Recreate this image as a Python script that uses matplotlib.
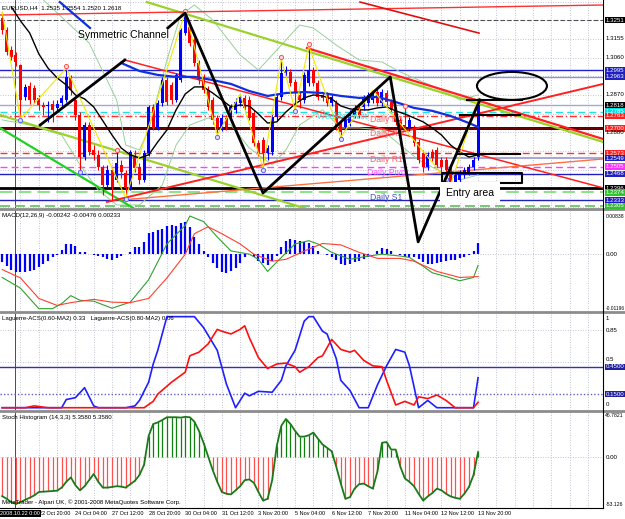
import numpy as np
import matplotlib
matplotlib.use("Agg")
import matplotlib.pyplot as plt
import matplotlib.transforms as mtransforms
from matplotlib.lines import Line2D
from matplotlib.patches import Ellipse

plt.rcParams["font.family"] = ["Liberation Sans", "DejaVu Sans"]

# ---------------- EURUSD H4 bars ----------------
opens = [1.3262, 1.3201, 1.3099, 1.3074, 1.3023, 1.2860, 1.2916, 1.2906, 1.2855, 1.2819,
         1.2814, 1.2824, 1.2804, 1.2829, 1.2845, 1.2957, 1.2845, 1.2768, 1.2554, 1.2717,
         1.2590, 1.2565, 1.2504, 1.2412, 1.2488, 1.2437, 1.2514, 1.2473, 1.2397, 1.2554,
         1.2504, 1.2437, 1.2575, 1.2809, 1.2702, 1.2829, 1.2946, 1.2921, 1.2845, 1.2946,
         1.3186, 1.3216, 1.3150, 1.3033, 1.2962, 1.2895, 1.2845, 1.2753, 1.2702, 1.2753,
         1.2753, 1.2794, 1.2829, 1.2855, 1.2845, 1.2778, 1.2626, 1.2641, 1.2575, 1.2580,
         1.2758, 1.2860, 1.2982, 1.2987, 1.2936, 1.2870, 1.2845, 1.2931, 1.2997, 1.2931,
         1.2870, 1.2870, 1.2829, 1.2829, 1.2727, 1.2707, 1.2727, 1.2768, 1.2804, 1.2809,
         1.2829, 1.2845, 1.2885, 1.2829, 1.2880, 1.2834, 1.2794, 1.2743, 1.2717, 1.2702,
         1.2702, 1.2631, 1.2575, 1.2504, 1.2580, 1.2590, 1.2539, 1.2539, 1.2504, 1.2427,
         1.2437, 1.2463, 1.2478, 1.2504, 1.2554]
closes = [1.3201, 1.3089, 1.3063, 1.3038, 1.2845, 1.2911, 1.2845, 1.2845, 1.2819, 1.2809,
          1.2819, 1.2794, 1.2824, 1.2855, 1.2962, 1.2895, 1.2768, 1.2554, 1.2717, 1.2580,
          1.2565, 1.2504, 1.2412, 1.2488, 1.2402, 1.2524, 1.2478, 1.2397, 1.2580, 1.2498,
          1.2437, 1.2575, 1.2809, 1.2702, 1.2829, 1.2946, 1.2834, 1.2845, 1.2972, 1.3201,
          1.3277, 1.3135, 1.3033, 1.2946, 1.2895, 1.2809, 1.2743, 1.2707, 1.2753, 1.2707,
          1.2809, 1.2834, 1.2860, 1.2804, 1.2753, 1.2626, 1.2575, 1.2575, 1.2600, 1.2758,
          1.2860, 1.2982, 1.2997, 1.2931, 1.2880, 1.2845, 1.2972, 1.2997, 1.2931, 1.2860,
          1.2855, 1.2829, 1.2860, 1.2707, 1.2682, 1.2743, 1.2778, 1.2804, 1.2768, 1.2855,
          1.2870, 1.2880, 1.2829, 1.2885, 1.2834, 1.2794, 1.2733, 1.2702, 1.2707, 1.2743,
          1.2626, 1.2539, 1.2504, 1.2565, 1.2549, 1.2514, 1.2504, 1.2488, 1.2427, 1.2463,
          1.2473, 1.2488, 1.2504, 1.2539, 1.2818]
highs = [1.3292, 1.3216, 1.3119, 1.3089, 1.3030, 1.2926, 1.2936, 1.2921, 1.2870, 1.2834,
         1.2839, 1.2845, 1.2845, 1.2870, 1.3007, 1.2972, 1.2855, 1.2783, 1.2733, 1.2733,
         1.2615, 1.2590, 1.2514, 1.2514, 1.2504, 1.2580, 1.2539, 1.2488, 1.2590, 1.2590,
         1.2524, 1.2590, 1.2819, 1.2824, 1.2845, 1.2962, 1.2962, 1.2936, 1.2982, 1.3211,
         1.3292, 1.3242, 1.3160, 1.3048, 1.2977, 1.2916, 1.2860, 1.2768, 1.2773, 1.2768,
         1.2824, 1.2855, 1.2875, 1.2870, 1.2865, 1.2794, 1.2641, 1.2656, 1.2615, 1.2773,
         1.2875, 1.3053, 1.3018, 1.3002, 1.2951, 1.2885, 1.2987, 1.3119, 1.3013, 1.2946,
         1.2885, 1.2885, 1.2875, 1.2845, 1.2743, 1.2758, 1.2794, 1.2819, 1.2819, 1.2870,
         1.2885, 1.2895, 1.2901, 1.2901, 1.2895, 1.2850, 1.2809, 1.2758, 1.2804, 1.2758,
         1.2717, 1.2646, 1.2590, 1.2580, 1.2595, 1.2605, 1.2554, 1.2554, 1.2519, 1.2478,
         1.2488, 1.2504, 1.2519, 1.2554, 1.2855]
lows = [1.3180, 1.3074, 1.3048, 1.3018, 1.2748, 1.2845, 1.2824, 1.2829, 1.2794, 1.2768,
        1.2733, 1.2733, 1.2783, 1.2814, 1.2834, 1.2870, 1.2743, 1.2488, 1.2539, 1.2565,
        1.2539, 1.2488, 1.2361, 1.2397, 1.2336, 1.2427, 1.2448, 1.2346, 1.2386, 1.2478,
        1.2417, 1.2427, 1.2560, 1.2692, 1.2692, 1.2814, 1.2819, 1.2824, 1.2834, 1.2936,
        1.3175, 1.3119, 1.3018, 1.2926, 1.2880, 1.2794, 1.2722, 1.2666, 1.2687, 1.2692,
        1.2738, 1.2778, 1.2814, 1.2794, 1.2743, 1.2610, 1.2560, 1.2498, 1.2539, 1.2565,
        1.2743, 1.2845, 1.2967, 1.2916, 1.2794, 1.2804, 1.2829, 1.2916, 1.2916, 1.2845,
        1.2839, 1.2814, 1.2814, 1.2692, 1.2656, 1.2692, 1.2712, 1.2753, 1.2753, 1.2794,
        1.2814, 1.2829, 1.2814, 1.2814, 1.2819, 1.2778, 1.2717, 1.2687, 1.2692, 1.2687,
        1.2610, 1.2524, 1.2478, 1.2488, 1.2534, 1.2498, 1.2463, 1.2448, 1.2412, 1.2412,
        1.2422, 1.2448, 1.2463, 1.2488, 1.2539]

date_bars = [8, 16, 24, 32, 40, 48, 56, 64, 72, 80, 88, 96, 104]
date_labels = ["22 Oct 20:00", "24 Oct 04:00", "27 Oct 12:00", "28 Oct 20:00",
               "30 Oct 04:00", "31 Oct 12:00", "3 Nov 20:00", "5 Nov 04:00",
               "6 Nov 12:00", "7 Nov 20:00", "11 Nov 04:00", "12 Nov 12:00",
               "13 Nov 20:00"]

# moving averages / bands on the price window
black_ma_x = list(range(2, 105, 2))
black_ma = [1.3318, 1.3247, 1.3186, 1.3079, 1.3007, 1.2957, 1.2921, 1.2870, 1.2850, 1.2809,
            1.2738, 1.2666, 1.2600, 1.2565, 1.2549, 1.2565, 1.2631, 1.2692, 1.2794, 1.2875,
            1.2911, 1.2911, 1.2880, 1.2845, 1.2809, 1.2819, 1.2814, 1.2773, 1.2727, 1.2733,
            1.2783, 1.2824, 1.2855, 1.2870, 1.2865, 1.2850, 1.2814, 1.2799, 1.2794, 1.2794,
            1.2804, 1.2809, 1.2789, 1.2773, 1.2753, 1.2733, 1.2702, 1.2666, 1.2615, 1.2580,
            1.2554, 1.2565]
blue_ma_x = [26, 30, 34, 38, 42, 46, 50, 54, 58, 62, 66, 70, 74, 78, 82, 86, 90, 94, 98, 102, 104]
blue_ma = [1.3033, 1.2992, 1.2972, 1.2962, 1.2962, 1.2946, 1.2926, 1.2890, 1.2865, 1.2880,
           1.2885, 1.2880, 1.2865, 1.2855, 1.2860, 1.2834, 1.2804, 1.2789, 1.2763, 1.2727, 1.2707]
blue_ma_top_x = [12.6, 19.2]
blue_ma_top = [1.3343, 1.3211]
bb_upper_x = [9, 19, 25, 27, 30, 32, 36, 39, 42, 46, 52, 56, 61, 65, 68, 73, 78, 83, 87, 91, 96, 100, 104]
bb_upper = [1.3354, 1.3135, 1.2845, 1.2615, 1.2590, 1.2692, 1.3048, 1.3277, 1.3328, 1.3252,
            1.3074, 1.2997, 1.3124, 1.3226, 1.3211, 1.3124, 1.3048, 1.3038, 1.2987, 1.2946,
            1.2895, 1.2845, 1.2870]
bb_lower_x = [0, 6, 13, 17, 21, 25, 30, 35, 38, 41, 45, 50, 54, 59, 62, 65, 70, 74, 78, 83,
              87, 91, 96, 100, 104]
bb_lower = [1.2743, 1.2717, 1.2666, 1.2514, 1.2386, 1.2310, 1.2310, 1.2412, 1.2615, 1.2717,
            1.2753, 1.2717, 1.2600, 1.2514, 1.2590, 1.2717, 1.2794, 1.2702, 1.2702, 1.2692,
            1.2615, 1.2539, 1.2478, 1.2437, 1.2463]
zz_bars = [0, 4, 14, 27, 40, 47, 52, 57, 61, 64, 67, 74, 81, 98, 104]
zz_sides = ["H", "L", "H", "L", "H", "L", "H", "L", "H", "L", "H", "L", "H", "L", "H"]
fractal_hi = [14, 25, 40, 61, 67, 88]
fractal_lo = [4, 17, 27, 47, 57, 64, 74, 97]

# horizontal levels with their price tags
level_prices = [1.3251, 1.2995, 1.2963, 1.2818, 1.2785, 1.2763, 1.2700, 1.2573, 1.2549,
                1.2505, 1.2468, 1.2396, 1.2374, 1.2333, 1.2305]
grid_labels = [1.3155, 1.3060, 1.2870, 1.2680]

# drawn objects (bar, price anchors)
green_ch = [([-0.5, 67.3], [1.2768, 1.2285]), ([31.6, 131.3], [1.3343, 1.2631])]
lime_line = ([-0.5, 28.6], [1.2702, 1.2295])
red_down = [([66.6, 131.3], [1.3109, 1.2646]), ([26.8, 131.3], [1.3048, 1.2397])]
red_up = ([22.9, 131.3], [1.2325, 1.2926])
orange_up = ([26.4, 131.3], [1.2336, 1.2544])
red_top = ([-0.5, 131.3], [1.3277, 1.3328])
darkred_top = ([78.2, 104.2], [1.3343, 1.3185])
sym_left = ([8.3, 26.8], [1.2717, 1.3048])
sym_main = ([36.2, 39.96, 57.0, 84.8, 90.9, 104.4], [1.3211, 1.3287, 1.2371, 1.2962, 1.2122, 1.2845])
hsegs = [([100.1, 113.2], 1.2768), ([99.4, 113.2], 1.2570), ([101.6, 113.6], 1.2845)]
entry_box = ([96.1, 113.6], [1.2473, 1.2422])
target_ellipse = (111.4, 1.2916, 15.3, 0.01425)

# ---------------- indicator windows ----------------
macd_hist = [-0.0017, -0.0026, -0.0033, -0.0038, -0.0039, -0.0038, -0.0037, -0.0033, -0.0028, -0.0022,
             -0.0015, -0.0007, -0.0001, 0.0009, 0.0021, 0.0022, 0.0018, 0.0005, 0.0004, 0.0001,
             -0.0001, -0.0004, -0.0007, -0.0010, -0.0013, -0.0009, -0.0004, 0.0000, 0.0004, 0.0015,
             0.0016, 0.0026, 0.0045, 0.0048, 0.0051, 0.0055, 0.0060, 0.0062, 0.0060, 0.0066,
             0.0070, 0.0059, 0.0037, 0.0022, 0.0007, -0.0007, -0.0018, -0.0029, -0.0038, -0.0040,
             -0.0037, -0.0029, -0.0018, -0.0007, 0.0000, -0.0007, -0.0015, -0.0018, -0.0023, -0.0015,
             -0.0004, 0.0015, 0.0028, 0.0033, 0.0031, 0.0029, 0.0026, 0.0023, 0.0018, 0.0007,
             0.0001, -0.0002, -0.0006, -0.0013, -0.0021, -0.0023, -0.0022, -0.0017, -0.0015, -0.0011,
             -0.0007, 0.0000, 0.0006, 0.0013, 0.0011, 0.0007, 0.0001, -0.0001, -0.0006, -0.0005,
             -0.0007, -0.0011, -0.0016, -0.0022, -0.0021, -0.0018, -0.0016, -0.0015, -0.0013, -0.0012,
             -0.0009, -0.0006, -0.0001, 0.0007, 0.0023]
macd_main_x = [0, 4, 8, 11, 13, 15, 17, 20, 24, 28, 32, 36, 40, 41, 44, 47, 50, 54, 56, 58,
               61, 64, 67, 69, 72, 76, 80, 83, 87, 89, 92, 94, 97, 100, 103, 104]
macd_main = [-0.0050, -0.0073, -0.0117, -0.0117, -0.0106, -0.0089, -0.0099, -0.0101, -0.0116, -0.0103,
             -0.0055, 0.0022, 0.0062, 0.0082, 0.0070, 0.0037, 0.0007, 0.0000, -0.0011, -0.0037,
             -0.0007, 0.0022, 0.0029, 0.0022, 0.0004, -0.0011, -0.0004, 0.0000, -0.0004, -0.0007,
             -0.0026, -0.0040, -0.0048, -0.0057, -0.0050, -0.0024]
macd_signal_x = [0, 4, 8, 12, 15, 20, 24, 28, 32, 36, 40, 42, 45, 48, 52, 55, 59, 62, 67, 70,
                 74, 78, 82, 87, 90, 95, 100, 104]
macd_signal = [-0.0033, -0.0051, -0.0095, -0.0110, -0.0104, -0.0097, -0.0103, -0.0104, -0.0095, -0.0051,
               0.0000, 0.0044, 0.0059, 0.0044, 0.0022, 0.0000, -0.0015, -0.0011, 0.0011, 0.0023,
               0.0020, 0.0004, -0.0009, -0.0009, -0.0015, -0.0037, -0.0050, -0.0048]

lag_fast_x = [0, 13, 14, 16, 18, 20, 21, 27, 29, 30, 32, 33, 34, 36, 42, 44, 47, 49, 51, 53,
              54, 56, 59, 61, 62, 64, 66, 67, 68, 70, 71, 73, 74, 76, 78, 80, 82, 84, 86, 88,
              89, 91, 93, 95, 103, 104]
lag_fast = [0, 0, 0.09, 0.11, 0.22, 0.02, 0, 0, 0.02, 0.08, 0.28, 0.48, 0.63, 1.0, 1.0, 0.88,
            0.63, 0.26, 0, 0.16, 0.13, 0.18, 0.17, 0.30, 0.46, 0.63, 0.95, 1.0, 1.0, 0.84,
            0.81, 0.54, 0.30, 0.19, 0, 0, 0.25, 0.46, 0.64, 0.61, 0.46, 0, 0.08, 0, 0, 0.33]
lag_slow_x = [0, 5, 7, 10, 31, 33, 34, 37, 40, 41, 43, 45, 47, 48, 50, 52, 53, 54, 56, 58,
              60, 62, 64, 65, 67, 69, 70, 72, 74, 76, 77, 79, 81, 83, 84, 86, 88, 90, 91, 93,
              95, 97, 99, 103, 104]
lag_slow = [0, 0, 0.02, 0, 0, 0.07, 0.15, 0.28, 0.39, 0.57, 0.61, 0.70, 0.86, 0.84, 0.81,
            0.86, 0.90, 0.77, 0.55, 0.43, 0.48, 0.49, 0.45, 0.39, 0.45, 0.55, 0.57, 0.75, 0.64,
            0.61, 0.63, 0.52, 0.46, 0.45, 0.30, 0.03, 0.07, 0.03, 0.12, 0.10, 0.14, 0.08, 0, 0, 0.06]

stoch_hist = [-42.6, -45.5, -49.2, -51.1, -49.2, -46.6, -44.4, -41.8, -38.1, -37.7,
              -37.4, -37.0, -36.6, -33.3, -27.0, -22.2, -30.7, -36.3, -31.8, -25.2,
              -18.5, -27.0, -33.3, -33.3, -32.6, -31.8, -32.2, -33.3, -29.6, -25.9,
              -19.6, -8.5, 22.9, 35.9, 37.7, 40.3, 43.3, 43.3, 43.3, 42.9,
              43.7, 43.3, 38.5, 28.5, 15.5, 0.7, -14.1, -27.0, -38.1, -40.0,
              -40.7, -36.3, -31.8, -25.2, -24.4, -28.1, -38.1, -47.4, -45.5, -25.2,
              11.8, 34.0, 41.4, 35.9, 28.5, 22.2, 22.2, 23.7, 26.6, 20.0,
              13.7, 10.0, 6.3, -10.4, -28.9, -45.5, -43.7, -34.4, -29.6, -28.9,
              -31.8, -34.4, -15.9, 15.5, 16.3, 8.1, 8.1, -10.4, -23.3, -27.0,
              -31.8, -40.0, -47.4, -42.9, -39.2, -34.4, -36.3, -40.0, -42.9, -44.4,
              -45.5, -40.0, -32.6, -19.6, 5.4]

# ---------------- layout (pixel based, like the terminal window) ----------------
W, H = 625, 519
PLOT_R = 603
XLIM = (-0.48, 131.3)
GRID = "#b0b0c4"
FS = 4.4

fig = plt.figure(figsize=(W / 100, H / 100), dpi=100)
fig.patch.set_facecolor("white")


def add_panel(top, bottom, z=1):
    ax = fig.add_axes([0, 1 - bottom / H, PLOT_R / W, (bottom - top) / H], zorder=z)
    ax.set_xlim(*XLIM)
    ax.set_xticks([])
    ax.set_yticks([])
    for s in ax.spines.values():
        s.set_visible(False)
    for b in range(4, 132, 4):
        ax.axvline(b, color=GRID, lw=0.6, ls=(0, (1, 2)), zorder=0)
    ax.axvline(2.8, color="#303030", lw=0.6, zorder=1)
    return ax


def tag(ax, y, text, fc, tc="white"):
    ax.text(1.004, y, text, transform=ax.get_yaxis_transform(), fontsize=FS, color=tc,
            va="center", ha="left", clip_on=False,
            bbox=dict(boxstyle="square,pad=0.12", fc=fc, ec="none"))


def plain(ax, y, text, fs=FS):
    ax.text(1.004, y, text, transform=ax.get_yaxis_transform(), fontsize=fs,
            color="black", va="center", ha="left", clip_on=False)


main = add_panel(0, 207.5, z=5)
macd = add_panel(209.5, 311)
lag = add_panel(313, 410)
sto = add_panel(412, 508)

# ---------------- price window ----------------
main.set_ylim(1.2297, 1.33535)
for p in np.arange(1.3345, 1.229, -0.0095):
    main.axhline(p, color=GRID, lw=0.6, ls=(0, (1, 2)), zorder=0)

level_colors = ["#505050", "#2020d0", "#9090d8", "#a8a8cc", "#20e0e0", "#ff3030", "#000000",
                "#ff3030", "#a8a8d0", "#ff40ff", "#2020c0", "#000000", "#90e090", "#2020c0",
                "#60c060"]
level_styles = [(0, (4, 2)), "-", "-", "-", (0, (5, 3)), (0, (5, 2, 1, 2)), "-", (0, (5, 3)),
                "-", (0, (5, 3)), "-", "-", (0, (6, 3)), "-", (0, (6, 3))]
level_widths = [0.8, 1.0, 1.0, 1.0, 1.0, 1.0, 2.0, 1.0, 1.5, 1.0, 1.0, 2.0, 1.5, 1.0, 1.2]
tag_colors = ["#000000", "#2020c0", "#2020c0", "#000000", "#00e0e0", "#ff2020", "#ff2020",
              "#ff2020", "#2020c0", "#ff30ff", "#2020c0", "#000000", "#30c030", "#2020c0",
              "#30c030"]
for p, c, ls, lw, tc in zip(level_prices, level_colors, level_styles, level_widths, tag_colors):
    main.axhline(p, color=c, ls=ls, lw=lw, zorder=2)
    tag(main, p, f"{p:.4f}", tc)
main.axhline(level_prices[6], color="#800000", lw=0.6, zorder=2)
for p in grid_labels:
    plain(main, p, f"{p:.4f}")

# bands and averages
main.plot(bb_upper_x, bb_upper, color="#98d098", lw=0.7, zorder=3)
main.plot(bb_lower_x, bb_lower, color="#98d098", lw=0.7, zorder=3)

# sloping trend lines
for xs, ys in green_ch:
    main.plot(xs, ys, color="#9ad22a", lw=1.6, zorder=3)
main.plot(*lime_line, color="#22d022", lw=1.6, zorder=3)
for (xs, ys), lw in zip(red_down, [1.6, 1.1]):
    main.plot(xs, ys, color="#ff2020", lw=lw, zorder=3)
main.plot(*red_up, color="#ff2020", lw=1.4, zorder=3)
main.plot(*orange_up, color="#ff7040", lw=1.0, zorder=3)
main.plot(*red_top, color="#ff3030", lw=1.0, zorder=3)
main.plot(*darkred_top, color="#e01010", lw=1.2, zorder=3)

# candles
x = np.arange(len(closes))
o, h, l, c = map(np.array, (opens, highs, lows, closes))
cols = np.where(c >= o, "#0000ff", "#ff0000")
main.vlines(x, l, h, colors=cols, lw=0.8, zorder=4)
body = np.maximum(np.abs(c - o), 0.00025)
main.bar(x, body, bottom=np.minimum(o, c), width=0.66, color=cols, lw=0, zorder=4)

main.plot(black_ma_x, black_ma, color="black", lw=1.0, zorder=5)
main.plot(blue_ma_x, blue_ma, color="#1030e0", lw=1.6, zorder=5)
main.plot(blue_ma_top_x, blue_ma_top, color="#1030e0", lw=1.6, zorder=5)

zz_y = [h[b] if s == "H" else l[b] for b, s in zip(zz_bars, zz_sides)]
main.plot(zz_bars, zz_y, color="#f0e800", lw=0.8, zorder=5)
main.plot(fractal_hi, h[fractal_hi] + 0.0008, "o", ms=3, mfc="#ffe0e0", mec="#ff5050",
          mew=0.7, zorder=6)
main.plot(fractal_lo, l[fractal_lo] - 0.0008, "o", ms=3, mfc="#e0e0ff", mec="#6060ff",
          mew=0.7, zorder=6)

# level captions
for txt, bx, py, col in [("Weekly Pivot", 68.8, 1.2758, "#40e0e0"),
                         ("Daily R3", 80.4, 1.2743, "#ff6060"),
                         ("Daily R2", 80.4, 1.2672, "#ff6060"),
                         ("Daily R1", 80.4, 1.2539, "#ff6060"),
                         ("Daily Pivot", 79.8, 1.2473, "#ff50ff"),
                         ("Daily S1", 80.4, 1.2346, "#4050c0")]:
    main.text(bx, py, txt, fontsize=6.2, color=col, va="center", ha="left", zorder=6)

# hand drawn pattern
main.plot(*sym_left, color="black", lw=2.0, zorder=7)
main.plot(*sym_main, color="black", lw=2.0, zorder=7, clip_on=False)
for xs, py in hsegs:
    main.plot(xs, [py, py], color="black", lw=1.5, zorder=7)
bx0, bx1 = entry_box[0]
by0, by1 = entry_box[1]
main.plot([bx0, bx0, bx1, bx1, bx0], [by1, by0, by0, by1, by1], color="black", lw=1.5, zorder=7)
ex, ey, ew, eh = target_ellipse
main.add_patch(Ellipse((ex, ey), ew, eh, fill=False, ec="black", lw=1.5, zorder=7))
main.text(16.6, 1.3175, "Symmetric Channel", fontsize=7.5, color="black", va="center",
          ha="left", zorder=8)
main.text(97.0, 1.2372, "Entry area", fontsize=7.5, color="black", va="center", ha="left",
          zorder=8, clip_on=False,
          bbox=dict(boxstyle="square,pad=0.55", fc="white", ec="none"))
main.text(0.004, 0.975, "EURUSD,H4  1.2535 1.2554 1.2520 1.2618", transform=main.transAxes,
          fontsize=FS, va="top", ha="left", zorder=8)

# ---------------- MACD ----------------
macd.set_ylim(-0.0122, 0.0096)
macd.axhline(0, color=GRID, lw=0.6, ls=(0, (1, 2)))
macd.vlines(x, 0, macd_hist, colors="#0000ff", lw=1.6)
macd.plot(macd_main_x, macd_main, color="#30a030", lw=0.8)
macd.plot(macd_signal_x, macd_signal, color="#ff4030", lw=0.8)
macd.text(0.004, 0.97, "MACD(12,26,9) -0.00242 -0.00476 0.00233", transform=macd.transAxes,
          fontsize=FS, va="top", ha="left")
plain(macd, 0.00800, "0.00838", fs=3.7)
plain(macd, 0.0, "0.00")
plain(macd, -0.01160, "-0.01196", fs=3.5)

# ---------------- Laguerre ----------------
lag.set_ylim(-0.025, 1.04)
for lv in (0.85, 0.5):
    lag.axhline(lv, color=GRID, lw=0.6, ls=(0, (1, 2)))
lag.axhline(0.45, color="#3030c0", lw=1.0)
lag.axhline(0.15, color="#6060d0", lw=1.0, ls=(0, (1, 1.5)))
lag.plot(lag_fast_x, lag_fast, color="#2020ff", lw=1.2)
lag.plot(lag_slow_x, lag_slow, color="#ff1010", lw=1.2)
lag.text(0.004, 0.97, "Laguerre-ACS(0.60-MA2) 0.33   Laguerre-ACS(0.80-MA2) 0.06",
         transform=lag.transAxes, fontsize=FS, va="top", ha="left")
for lv, txt in [(0.98, "1"), (0.85, "0.85"), (0.53, "0.5"), (0.03, "0")]:
    plain(lag, lv, txt)
tag(lag, 0.45, "0.4500", "#2020a0")
tag(lag, 0.15, "0.1500", "#2020a0")

# ---------------- Stoch histogram ----------------
sto.set_ylim(-55.5, 49.0)
sto.axhline(0, color=GRID, lw=0.6, ls=(0, (1, 2)))
sv = np.array(stoch_hist)
sto.vlines(x, 0, sv, colors=np.where(sv >= 0, "#108010", "#ff5050"), lw=0.9)
sto.plot(x, sv, color="#1a7a1a", lw=1.3)
sto.text(0.004, 0.97, "Stoch Histogram (14,3,3) 5.3580 5.3580", transform=sto.transAxes,
         fontsize=FS, va="top", ha="left")
sto.text(0.004, 0.03, "MetaTrader - Alpari UK, \u00a9 2001-2008 MetaQuotes Software Corp.",
         transform=sto.transAxes, fontsize=FS, va="bottom", ha="left")
plain(sto, 45.0, "46.7821", fs=3.7)
plain(sto, 0.0, "0.00")
plain(sto, -51.5, "-53.126", fs=3.7)

# date axis
dt = mtransforms.blended_transform_factory(sto.transData, sto.transAxes)
sto.text(-0.45, -0.055, "2008.10.22 0:00", transform=dt, fontsize=4.0, color="white",
         va="center", ha="left", clip_on=False,
         bbox=dict(boxstyle="square,pad=0.2", fc="black", ec="none"))
for b, lab in zip(date_bars, date_labels):
    sto.text(b, -0.055, lab, transform=dt, fontsize=4.0, color="black", va="center",
             ha="left", clip_on=False)

# window frame: separators, price scale border, time scale border
for yy in (208.5, 312, 411):
    fig.add_artist(Line2D([0, 1], [1 - yy / H, 1 - yy / H], color="#8c8c8c", lw=2.0))
fig.add_artist(Line2D([PLOT_R / W, PLOT_R / W], [1 - 508 / H, 1], color="black", lw=0.8))
fig.add_artist(Line2D([0, PLOT_R / W], [1 - 508 / H, 1 - 508 / H], color="black", lw=0.8))

fig.savefig("out.png", dpi=100)
